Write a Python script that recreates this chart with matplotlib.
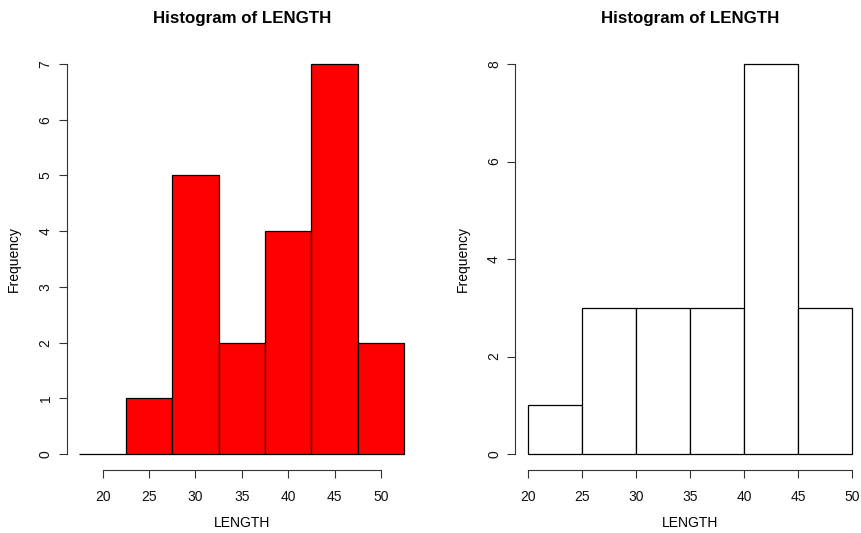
import matplotlib
matplotlib.use("Agg")
import matplotlib.pyplot as plt
import numpy as np

plt.rcParams['font.family'] = ['Liberation Sans', 'DejaVu Sans']

# Left histogram data
left_edges = [17.5, 22.5, 27.5, 32.5, 37.5, 42.5, 47.5, 52.5]
left_counts = [0, 1, 5, 2, 4, 7, 2]
left_xticks = [20, 25, 30, 35, 40, 45, 50]
left_yticks = [0, 1, 2, 3, 4, 5, 6, 7]

# Right histogram data
right_edges = [20, 25, 30, 35, 40, 45, 50]
right_counts = [1, 3, 3, 3, 8, 3]
right_xticks = [20, 25, 30, 35, 40, 45, 50]
right_yticks = [0, 2, 4, 6, 8]

title = "Histogram of LENGTH"
xlabel = "LENGTH"
ylabel = "Frequency"

W, H = 861, 533
fig = plt.figure(figsize=(W / 100, H / 100), dpi=100)

def px_axes(x0, x1, y0, y1):
    # x0,x1 left/right pixels; y0 top, y1 bottom pixels
    return fig.add_axes([x0 / W, (H - y1) / H, (x1 - x0) / W, (y1 - y0) / H])

ax1 = px_axes(66.5, 417.2, 48.4, 469.6)
ax2 = px_axes(515, 865, 48.4, 469.6)

def style(ax, edges, counts, color, xticks, yticks):
    e = np.array(edges, dtype=float)
    ax.bar(e[:-1], counts, width=np.diff(e), align='edge', color=color,
           edgecolor='black', linewidth=0.9, clip_on=False)
    xr = e[-1] - e[0]
    ax.set_xlim(e[0] - 0.04 * xr, e[-1] + 0.04 * xr)
    ymax = max(counts)
    ax.set_ylim(-0.04 * ymax, ymax * 1.04)
    for s in ['top', 'right']:
        ax.spines[s].set_visible(False)
    ax.spines['left'].set_bounds(yticks[0], yticks[-1])
    ax.spines['bottom'].set_bounds(xticks[0], xticks[-1])
    for s in ['left', 'bottom']:
        ax.spines[s].set_linewidth(0.8)
        ax.spines[s].set_color('#333333')
    ax.set_xticks(xticks)
    ax.set_yticks(yticks)
    ax.set_yticklabels([str(v) for v in yticks], rotation=90, va='center')
    ax.tick_params(axis='both', length=5.5, width=0.8, labelsize=10,
                   color='#333333', labelcolor='#111111')
    ax.tick_params(axis='x', pad=9)
    ax.tick_params(axis='y', pad=4.5)
    ax.set_title(title, fontsize=12.2, fontweight='bold', y=1.072, va='center', pad=0)
    ax.set_xlabel(xlabel, fontsize=10, va='center')
    ax.set_ylabel(ylabel, fontsize=10, ha='center', va='center')
    ax.xaxis.set_label_coords(0.5, -0.127)
    ax.patch.set_visible(False)

style(ax1, left_edges, left_counts, '#ff0000', left_xticks, left_yticks)
style(ax2, right_edges, right_counts, 'white', right_xticks, right_yticks)
ax1.yaxis.set_label_coords(-0.15, 0.5)
ax2.yaxis.set_label_coords(-0.149, 0.5)

fig.savefig("out.png", dpi=100)
